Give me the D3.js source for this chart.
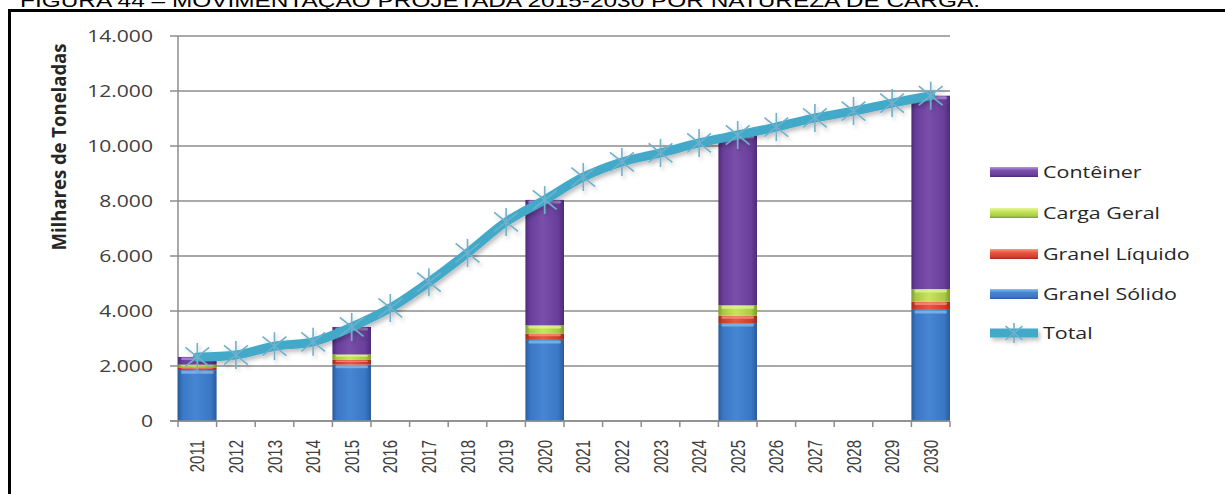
<!DOCTYPE html>
<html>
<head>
<meta charset="utf-8">
<script src="https://cdn.jsdelivr.net/npm/d3@7/dist/d3.min.js"></script>
<style>
  html, body { margin: 0; padding: 0; background: #fff; }
  svg { display: block; }
</style>
</head>
<body>
<svg id="chart" width="1225" height="494"></svg>
<script>
// Movimentação projetada por natureza de carga (milhares de toneladas)
const years = ["2011","2012","2013","2014","2015","2016","2017","2018","2019","2020",
               "2021","2022","2023","2024","2025","2026","2027","2028","2029","2030"];

const granelSolido  = [1850, null, null, null, 2050, null, null, null, null, 2950,
                       null, null, null, null, 3560, null, null, null, null, 4040];
const granelLiquido = [100, null, null, null, 170, null, null, null, null, 230,
                       null, null, null, null, 270, null, null, null, null, 300];
const cargaGeral    = [100, null, null, null, 200, null, null, null, null, 300,
                       null, null, null, null, 380, null, null, null, null, 460];
const conteiner     = [280, null, null, null, 1000, null, null, null, null, 4560,
                       null, null, null, null, 6190, null, null, null, null, 7030];
const total         = [2330, 2400, 2720, 2880, 3420, 4110, 5050, 6110, 7240, 8040,
                       8870, 9420, 9750, 10110, 10400, 10690, 11020, 11270, 11560, 11830];

const yTicks = [0, 2000, 4000, 6000, 8000, 10000, 12000, 14000];
const yTickLabels = ["0", "2.000", "4.000", "6.000", "8.000", "10.000", "12.000", "14.000"];

const titleText = "FIGURA 44 – MOVIMENTAÇÃO PROJETADA 2015-2030 POR NATUREZA DE CARGA.";
const yTitle = "Milhares de Toneladas";

const seriesNames = ["Granel Sólido", "Granel Líquido", "Carga Geral", "Contêiner"];
const seriesValues = [granelSolido, granelLiquido, cargaGeral, conteiner];
const seriesColors = [
  { dark: "#2a5c9c", mid: "#3a77c4", light: "#4786d4", hi: "#8fc0f0" },
  { dark: "#9e2a1e", mid: "#d23e2b", light: "#e65844", hi: "#f59a8a" },
  { dark: "#7e9a2c", mid: "#a8cb44", light: "#c6e55a", hi: "#e6f79a" },
  { dark: "#4e2b77", mid: "#683e9a", light: "#7a4fac", hi: "#b895dc" }
];
const lineColor = "#43a9c9";
const markerColor = "#6fb0cc";

const svg = d3.select("#chart");
const defs = svg.append("defs");

// horizontal cylinder-like gradients for the stacked bars
seriesColors.forEach((c, i) => {
  const g = defs.append("linearGradient").attr("id", "grad" + i)
    .attr("x1", "0%").attr("x2", "100%").attr("y1", "0%").attr("y2", "0%");
  [[0, c.dark], [0.12, c.mid], [0.45, c.light], [0.85, c.mid], [1, c.dark]]
    .forEach(([o, col]) => g.append("stop").attr("offset", o).attr("stop-color", col));
});
const shadow = defs.append("filter").attr("id", "lineShadow")
  .attr("x", "-10%").attr("y", "-10%").attr("width", "120%").attr("height", "130%");
shadow.append("feDropShadow").attr("dx", 2).attr("dy", 3).attr("stdDeviation", 2)
  .attr("flood-color", "#000").attr("flood-opacity", 0.25);

// frame and heading
svg.append("text")
  .attr("x", 20).attr("y", 7)
  .attr("font-family", "Liberation Sans, Arial, sans-serif")
  .attr("font-size", 19)
  .attr("textLength", 960).attr("lengthAdjust", "spacingAndGlyphs")
  .attr("fill", "#000")
  .text(titleText);

svg.append("rect")
  .attr("x", 9.5).attr("y", 10.5).attr("width", 1240).attr("height", 520)
  .attr("fill", "none").attr("stroke", "#000").attr("stroke-width", 3);

// scales
const x = d3.scaleBand().domain(years).range([178, 950]).padding(0);
const y = d3.scaleLinear().domain([0, 14000]).range([421, 36]);

const plot = svg.append("g");

// gridlines
plot.append("g").selectAll("line").data(yTicks).join("line")
  .attr("x1", 170).attr("x2", 950)
  .attr("y1", d => y(d)).attr("y2", d => y(d))
  .attr("stroke", "#8c8c8c").attr("stroke-width", 1.5);

// y axis line
plot.append("line")
  .attr("x1", 178).attr("x2", 178).attr("y1", y(14000)).attr("y2", y(0))
  .attr("stroke", "#8c8c8c").attr("stroke-width", 1.5);

// y tick labels
const yAxis = d3.axisLeft(y).tickValues(yTicks)
  .tickFormat((d, i) => yTickLabels[i]).tickSize(0);
const yAxisG = svg.append("g").attr("transform", "translate(178,0)").call(yAxis);
yAxisG.select(".domain").remove();
yAxisG.selectAll("text")
  .attr("x", 0).attr("dy", "0.35em")
  .attr("text-anchor", "end")
  .attr("transform", "translate(-25,0) scale(1.32,1)")
  .attr("font-family", "Open Sans, sans-serif")
  .attr("font-size", 16)
  .attr("fill", "#404040");

// y axis title
svg.append("text")
  .attr("transform", "translate(59,147) scale(1.3,1) rotate(-90)")
  .attr("text-anchor", "middle").attr("dy", "0.35em")
  .attr("font-family", "Open Sans, sans-serif")
  .attr("font-weight", "bold").attr("font-size", 15.5)
  .attr("textLength", 207).attr("lengthAdjust", "spacingAndGlyphs")
  .attr("fill", "#262626")
  .text(yTitle);

// stacked bars
const stackRows = years.map((yr, i) => {
  const row = { year: yr };
  seriesNames.forEach((n, k) => row[n] = seriesValues[k][i] == null ? 0 : seriesValues[k][i]);
  return row;
});
const stacked = d3.stack().keys(seriesNames)(stackRows);

stacked.forEach((layer, k) => {
  const g = plot.append("g");
  const segs = layer.filter(d => d[1] > d[0]);
  g.selectAll("rect.seg").data(segs).join("rect")
    .attr("class", "seg")
    .attr("x", d => x(d.data.year))
    .attr("width", x.bandwidth())
    .attr("y", d => y(d[1]))
    .attr("height", d => y(d[0]) - y(d[1]))
    .attr("fill", "url(#grad" + k + ")");
  // bevel highlight along the top of each segment
  g.selectAll("rect.hi").data(segs).join("rect")
    .attr("class", "hi")
    .attr("x", d => x(d.data.year) + 3)
    .attr("width", x.bandwidth() - 6)
    .attr("y", d => y(d[1]) + 0.5)
    .attr("height", d => Math.min(3, (y(d[0]) - y(d[1])) / 3))
    .attr("rx", 1.5)
    .attr("fill", seriesColors[k].hi).attr("opacity", 0.7);
});

// x axis line and ticks
plot.append("line")
  .attr("x1", 170).attr("x2", 950).attr("y1", y(0)).attr("y2", y(0))
  .attr("stroke", "#8c8c8c").attr("stroke-width", 1.5);
const xAxis = d3.axisBottom(x).tickSize(0).tickSizeOuter(0);
const xAxisG = svg.append("g").attr("transform", "translate(0," + y(0) + ")").call(xAxis);
xAxisG.select(".domain").remove();
xAxisG.selectAll("text")
  .attr("x", 0).attr("y", 0).attr("dy", "0.35em")
  .attr("text-anchor", "end")
  .attr("transform", "translate(0,19) scale(1.35,1) rotate(-90)")
  .attr("font-family", "Liberation Sans, Arial, sans-serif")
  .attr("font-size", 15)
  .attr("fill", "#404040");
const boundaries = years.map(d => x(d)).concat([x(years[years.length - 1]) + x.bandwidth()]);
plot.append("g").selectAll("line").data(boundaries).join("line")
  .attr("x1", d => d).attr("x2", d => d)
  .attr("y1", y(0)).attr("y2", y(0) + 6)
  .attr("stroke", "#8c8c8c").attr("stroke-width", 1.5);

// total line (smoothed) with star markers
const lineGen = d3.line()
  .x((d, i) => x(years[i]) + x.bandwidth() / 2)
  .y(d => y(d))
  .curve(d3.curveCatmullRom.alpha(0.5));

function starPath(cx, cy, r) {
  const a = r * 0.85;
  return `M${cx - a},${cy - a * 0.8}L${cx + a},${cy + a * 0.8}` +
         `M${cx - a},${cy + a * 0.8}L${cx + a},${cy - a * 0.8}` +
         `M${cx},${cy - r}L${cx},${cy + r}`;
}

const lineG = plot.append("g").attr("filter", "url(#lineShadow)");
lineG.append("path")
  .datum(total)
  .attr("d", lineGen)
  .attr("fill", "none")
  .attr("stroke", lineColor).attr("stroke-width", 9)
  .attr("stroke-linecap", "round").attr("stroke-linejoin", "round");
lineG.selectAll("path.mk").data(total).join("path")
  .attr("class", "mk")
  .attr("d", (d, i) => starPath(x(years[i]) + x.bandwidth() / 2, y(d), 14))
  .attr("fill", "none").attr("stroke", markerColor).attr("stroke-width", 1.6);

// legend
const legendItems = [
  { name: "Contêiner", k: 3, cy: 172 },
  { name: "Carga Geral", k: 2, cy: 213 },
  { name: "Granel Líquido", k: 1, cy: 254 },
  { name: "Granel Sólido", k: 0, cy: 294 }
];
const legend = svg.append("g");
legendItems.forEach(it => {
  const lg = defs.append("linearGradient").attr("id", "lgrad" + it.k)
    .attr("x1", "0%").attr("x2", "0%").attr("y1", "0%").attr("y2", "100%");
  const c = seriesColors[it.k];
  [[0, c.hi], [0.35, c.light], [0.8, c.mid], [1, c.dark]]
    .forEach(([o, col]) => lg.append("stop").attr("offset", o).attr("stop-color", col));
  legend.append("rect")
    .attr("x", 990).attr("y", it.cy - 5).attr("width", 48).attr("height", 10)
    .attr("fill", "url(#lgrad" + it.k + ")");
  legend.append("text")
    .attr("transform", `translate(1043,${it.cy}) scale(1.3,1)`)
    .attr("dy", "0.36em")
    .attr("font-family", "Open Sans, sans-serif").attr("font-size", 16.5)
    .attr("fill", "#262626")
    .text(it.name);
});
const totalRowY = 333;
const lgLine = legend.append("g").attr("filter", "url(#lineShadow)");
lgLine.append("line")
  .attr("x1", 990).attr("x2", 1038).attr("y1", totalRowY).attr("y2", totalRowY)
  .attr("stroke", lineColor).attr("stroke-width", 9);
lgLine.append("path")
  .attr("d", starPath(1014, totalRowY, 10))
  .attr("fill", "none").attr("stroke", markerColor).attr("stroke-width", 1.6);
legend.append("text")
  .attr("transform", `translate(1043,${totalRowY}) scale(1.3,1)`)
  .attr("dy", "0.36em")
  .attr("font-family", "Open Sans, sans-serif").attr("font-size", 16.5)
  .attr("fill", "#262626")
  .text("Total");
</script>
</body>
</html>
